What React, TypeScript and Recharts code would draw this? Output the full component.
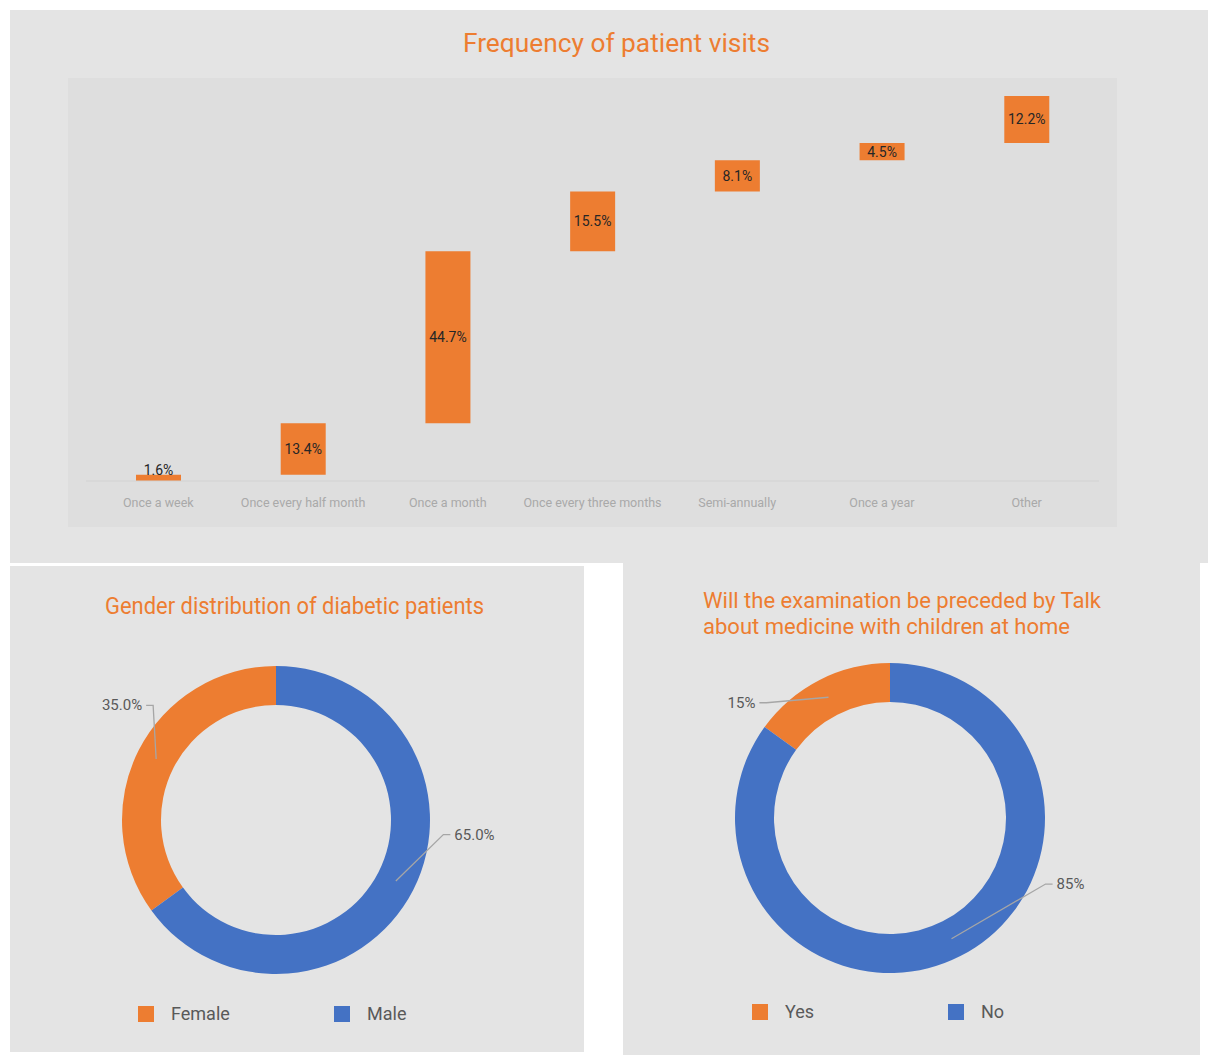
import React from 'react';
import { BarChart, Bar, XAxis, YAxis, LabelList, PieChart, Pie, Cell, Legend } from 'recharts';

// ---------- data ----------
const visitCategories = [
  'Once a week',
  'Once every half month',
  'Once a month',
  'Once every three months',
  'Semi-annually',
  'Once a year',
  'Other',
];
const visitShares = [1.6, 13.4, 44.7, 15.5, 8.1, 4.5, 12.2];

const genderNames = ['Female', 'Male'];
const genderShares = [35.0, 65.0];

const talkNames = ['Yes', 'No'];
const talkShares = [15, 85];

const titles = {
  visits: 'Frequency of patient visits',
  gender: 'Gender distribution of diabetic patients',
  talk1: 'Will the examination be preceded by Talk',
  talk2: 'about medicine with children at home',
};

// ---------- styles ----------
const ORANGE = '#ED7D31';
const BLUE = '#4472C4';
const sliceColors = [ORANGE, BLUE];
const PANEL = '#e4e4e4';
const PLOT = '#dedede';
const FONT = 'Roboto, "Noto Sans", sans-serif';

// waterfall: invisible base + visible step
let running = 0;
const visitData = visitCategories.map((name, i) => {
  const base = Math.round(running * 10) / 10;
  running += visitShares[i];
  return { name, base, value: visitShares[i] };
});

const genderData = genderNames.map((name, i) => ({ name, value: genderShares[i] }));
const talkData = talkNames.map((name, i) => ({ name, value: talkShares[i] }));

const renderBarLabel = (props: any) => {
  const { x, y, width, height, value } = props;
  const cx = Number(x) + Number(width) / 2;
  const h = Number(height);
  const cy = h < 16 ? Number(y) - 5 : Number(y) + h / 2;
  return (
    <text x={cx} y={cy} textAnchor="middle" dominantBaseline="central" fontSize={14} fill="#262626" fontFamily={FONT}>
      {Number(value).toFixed(1)}%
    </text>
  );
};

const RAD = Math.PI / 180;
// leader-line label: elbow pulled toward upper-left on the left half, toward 3 o'clock on the right half
const makePieLabel = (digits: number) => (props: any) => {
  const { cx, cy, midAngle, innerRadius, outerRadius, value } = props;
  const mid = ((midAngle % 360) + 360) % 360;
  const rm = (innerRadius + outerRadius) / 2;
  const sx = cx + rm * Math.cos(mid * RAD);
  const sy = cy - rm * Math.sin(mid * RAD);
  let ea: number;
  if (mid > 90 && mid <= 270) {
    const target = 137;
    ea = mid > target ? Math.max(target, mid - 40) : Math.min(target, mid + 40);
  } else {
    const a = mid > 270 ? mid - 360 : mid;
    const target = -5;
    ea = a < target ? Math.min(target, a + 40) : Math.max(target, a - 40);
  }
  const re = outerRadius + 14;
  const ex = cx + re * Math.cos(ea * RAD);
  const ey = cy - re * Math.sin(ea * RAD);
  const dir = Math.cos(ea * RAD) >= 0 ? 1 : -1;
  const hx = ex + dir * 7;
  return (
    <g>
      <polyline points={`${sx},${sy} ${ex},${ey} ${hx},${ey}`} fill="none" stroke="#a6a6a6" strokeWidth={1.3} />
      <text x={hx + dir * 4} y={ey} textAnchor={dir > 0 ? 'start' : 'end'} dominantBaseline="central" fontSize={15} fill="#595959" fontFamily={FONT}>
        {Number(value).toFixed(digits)}%
      </text>
    </g>
  );
};

const PieLegend = ({ names }: { names: string[] }) => (
  <div style={{ display: 'flex', fontFamily: FONT }}>
    {names.map((n, i) => (
      <div key={n} style={{ width: 196, display: 'flex', alignItems: 'center' }}>
        <span style={{ display: 'inline-block', width: 16, height: 16, background: sliceColors[i], marginRight: 17 }} />
        <span style={{ fontSize: 18, color: '#595959' }}>{n}</span>
      </div>
    ))}
  </div>
);

export default function App() {
  return (
    <div style={{ position: 'absolute', left: 0, top: 0, width: 1208, height: 1055, background: '#fff', fontFamily: FONT, overflow: 'hidden' }}>
      {/* top panel */}
      <div style={{ position: 'absolute', left: 10, top: 10, width: 1198, height: 553, background: PANEL }} />
      <div style={{ position: 'absolute', left: 68, top: 78, width: 1049, height: 449, background: PLOT }} />
      <div style={{ position: 'absolute', left: 10, top: 10 }}>
        <BarChart width={1197} height={552} data={visitData} margin={{ top: 86, right: 108, bottom: 51, left: 76 }}>
          <XAxis
            dataKey="name"
            interval={0}
            tickLine={false}
            tickSize={0}
            tickMargin={17}
            height={30}
            axisLine={{ stroke: '#d2d2d2' }}
            tick={{ fill: '#a9a9a9', fontSize: 12.5, fontFamily: FONT }}
          />
          <YAxis hide type="number" domain={[0, 100]} allowDataOverflow />
          <Bar dataKey="base" stackId="w" fill="transparent" barSize={45} isAnimationActive={false} />
          <Bar dataKey="value" stackId="w" fill={ORANGE} barSize={45} isAnimationActive={false}>
            <LabelList dataKey="value" content={renderBarLabel} />
          </Bar>
        </BarChart>
      </div>

      {/* bottom-left panel */}
      <div style={{ position: 'absolute', left: 10, top: 566, width: 574, height: 486, background: PANEL }}>
        <PieChart width={574} height={486} margin={{ top: 0, right: 0, bottom: 0, left: 0 }}>
          <Pie
            data={genderData}
            dataKey="value"
            nameKey="name"
            cx={266}
            cy={254}
            innerRadius={115}
            outerRadius={154}
            startAngle={90}
            endAngle={450}
            stroke="none"
            isAnimationActive={false}
            label={makePieLabel(1)}
            labelLine={false}
          >
            {genderData.map((d, i) => (
              <Cell key={d.name} fill={sliceColors[i]} />
            ))}
          </Pie>
          <Legend content={() => <PieLegend names={genderNames} />} wrapperStyle={{ left: 128, top: 437, width: 420, bottom: 'auto' }} />
        </PieChart>
      </div>

      {/* bottom-right panel */}
      <div style={{ position: 'absolute', left: 623, top: 562, width: 577, height: 493, background: PANEL }}>
        <PieChart width={577} height={493} margin={{ top: 0, right: 0, bottom: 0, left: 0 }}>
          <Pie
            data={talkData}
            dataKey="value"
            nameKey="name"
            cx={267}
            cy={256}
            innerRadius={116}
            outerRadius={155}
            startAngle={90}
            endAngle={450}
            stroke="none"
            isAnimationActive={false}
            label={makePieLabel(0)}
            labelLine={false}
          >
            {talkData.map((d, i) => (
              <Cell key={d.name} fill={sliceColors[i]} />
            ))}
          </Pie>
          <Legend content={() => <PieLegend names={talkNames} />} wrapperStyle={{ left: 129, top: 439, width: 420, bottom: 'auto' }} />
        </PieChart>
      </div>

      {/* titles */}
      <svg width={1208} height={1055} style={{ position: 'absolute', left: 0, top: 0, pointerEvents: 'none' }}>
        <g fill={ORANGE} fontFamily={FONT}>
          <text x={616.5} y={52} textAnchor="middle" fontSize={25} textLength={307} lengthAdjust="spacingAndGlyphs">{titles.visits}</text>
          <text x={294.5} y={614} textAnchor="middle" fontSize={23} textLength={379} lengthAdjust="spacingAndGlyphs">{titles.gender}</text>
          <text x={703} y={608} fontSize={22} textLength={398} lengthAdjust="spacingAndGlyphs">{titles.talk1}</text>
          <text x={703} y={634} fontSize={22} textLength={367} lengthAdjust="spacingAndGlyphs">{titles.talk2}</text>
        </g>
      </svg>
    </div>
  );
}
